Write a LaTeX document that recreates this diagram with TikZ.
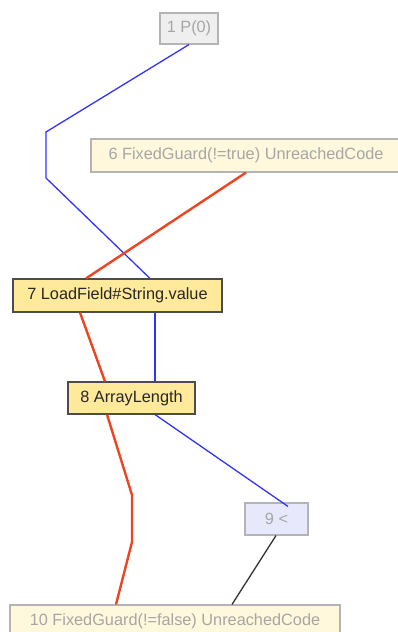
\documentclass[tikz,border=0pt]{standalone}
\usepackage{fontspec}
\setmainfont{Liberation Sans}
\usepackage{tikz}
\usetikzlibrary{arrows.meta}

\definecolor{opfill}{HTML}{FFE99A}
\definecolor{guardfill}{HTML}{FFF8DC}
\definecolor{cmpfill}{HTML}{E8E8FC}
\definecolor{paramfill}{HTML}{EFEFEF}
\definecolor{fadedtext}{HTML}{A6A6A6}
\definecolor{fadedline}{HTML}{B4B4B4}
\definecolor{usedge}{HTML}{3333FF}
\definecolor{ctrledge}{HTML}{EE4422}

\begin{document}
\begin{tikzpicture}[x=1pt,y=-1pt,
  box/.style={rectangle,inner sep=0pt,line width=1.1pt,
    font=\fontsize{16.3}{19}\selectfont},
  paramnode/.style={box,fill=paramfill,draw=fadedline,text=fadedtext},
  guardnode/.style={box,fill=guardfill,draw=fadedline,text=fadedtext},
  opnode/.style={box,fill=opfill,draw=black!70,text=black!85},
  cmpnode/.style={box,fill=cmpfill,draw=fadedline,text=fadedtext},
  dataline/.style={usedge,line width=1.3pt},
  ctrlline/.style={ctrledge,line width=2.4pt},
  plainline/.style={black!80,line width=1.3pt}]
\useasboundingbox (0,0) rectangle (398,632);
% Nodes
\node[paramnode,minimum width=58pt,minimum height=31pt] (n1) at (189,28.5) {1 P(0)};
\node[guardnode,minimum width=310pt,minimum height=33pt] (n6) at (246,155.5)
{6 FixedGuard(!=true) UnreachedCode};
\node[opnode,minimum width=209pt,minimum height=33pt] (n7) at (117.5,295.5)
{7 LoadField\#String.value};
\node[opnode,minimum width=127pt,minimum height=32pt] (n8) at (131.5,398) {8 ArrayLength};
\node[cmpnode,minimum width=63pt,minimum height=32pt] (n9) at (276.5,519) {9 <};
\node[guardnode,minimum width=330pt,minimum height=32pt] (n10) at (175,621)
{10 FixedGuard(!=false) UnreachedCode};
%
% Usage edges
\draw[dataline] (n1.south) -- (46,132) -- (46,178) -- ([xshift=32.5pt]n7.north);
\draw[dataline] ([xshift=37.5pt]n7.south) -- ([xshift=23.5pt]n8.north);
\draw[dataline] ([xshift=23.5pt]n8.south) -- ([xshift=11.5pt,yshift=-4pt]n9.north);
\draw[plainline] ([xshift=-0.5pt]n9.south) -- ([xshift=57pt]n10.north);
% Control flow
\draw[ctrlline] (n6.south) -- ([xshift=-31.5pt]n7.north);
\draw[ctrlline] ([xshift=-37.5pt]n7.south) -- ([xshift=-26.5pt]n8.north);
\draw[ctrlline] ([xshift=-24.5pt]n8.south) -- (132,495) -- (132,542)
-- ([xshift=-59pt]n10.north);
\end{tikzpicture}
\end{document}
